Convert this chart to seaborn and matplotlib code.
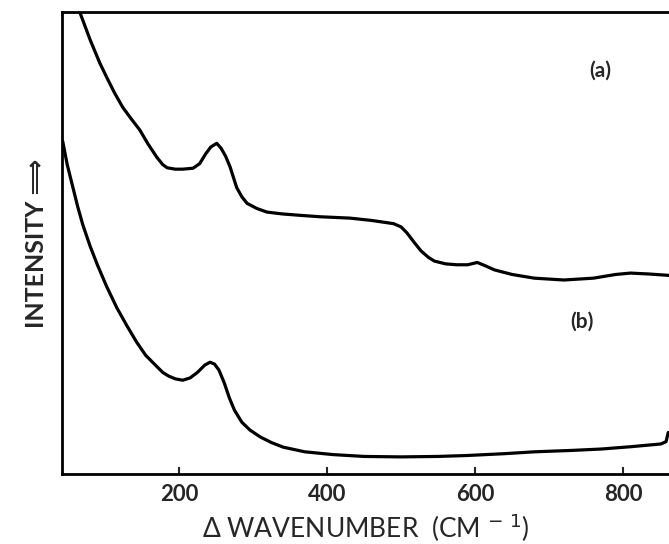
"""
Raman spectra (a) and (b) - redraw of scanned figure
"""

import numpy as np
import pandas as pd
import seaborn as sns
import matplotlib.pyplot as plt

# values (intensity in arbitrary units, 0 = bottom axis, 100 = top)
wavenumber_a = [60, 66, 80, 93, 102, 113, 124, 135, 147, 158, 170, 178, 184, 195, 205, 219,
                228, 236, 243, 251, 257, 263, 269, 278, 285, 292, 305, 319, 340, 364, 390,
                431, 460, 490, 500, 508, 517, 527, 537, 545, 560, 575, 590, 603, 615, 626,
                650, 680, 720, 760, 790, 810, 835, 862]
intensity_a = [104, 100, 94, 89, 86, 82.5, 79.4, 77, 74.5, 71.5, 68.6, 67, 66.3, 66, 66, 66.2,
               67.2, 69.3, 70.8, 71.6, 70.5, 68.8, 66.5, 62, 60, 58.6, 57.5, 56.7, 56.3, 56, 55.7,
               55.4, 54.9, 54.2, 53.5, 52.2, 50.3, 48.3, 46.9, 46.1, 45.5, 45.3, 45.3, 45.8, 45, 44.2,
               43.2, 42.4, 42, 42.4, 43.2, 43.5, 43.3, 43]

wavenumber_b = [43, 49, 56, 63, 70, 80, 90, 102, 116, 130, 143, 155, 168, 178, 186, 195,
                205, 215, 225, 235, 242, 248, 254, 261, 268, 275, 285, 296, 310, 325, 341,
                370, 408, 450, 500, 550, 589, 640, 680, 730, 770, 810, 851, 858, 861]
intensity_b = [72, 67, 62.5, 58, 54, 49.3, 45.2, 40.7, 36, 32, 28.5, 25.7, 23.6, 22, 21.2, 20.6,
               20.3, 20.8, 22, 23.6, 24.2, 23.8, 22.5, 19.8, 16.5, 13.8, 11.2, 9.5, 8, 6.8, 5.8,
               4.8, 4.2, 3.8, 3.7, 3.8, 4.0, 4.4, 4.8, 5.1, 5.4, 5.9, 6.5, 7, 9]

xticks = [200, 400, 600, 800]
spectrum_labels = ["(a)", "(b)"]

df = pd.concat([
	pd.DataFrame({"wavenumber": wavenumber_a, "intensity": intensity_a, "spectrum": "a"}),
	pd.DataFrame({"wavenumber": wavenumber_b, "intensity": intensity_b, "spectrum": "b"}),
])

sns.set_style("ticks")
plt.rcParams['font.family'] = ['Lato', 'DejaVu Sans']

fig = plt.figure(figsize=(6.69, 5.44), dpi=100)
ax = fig.add_axes([0.0927, 0.1287, 0.9073, 0.849])

sns.lineplot(data=df, x="wavenumber", y="intensity", units="spectrum", estimator=None,
			 sort=False, color="black", linewidth=2.3, ax=ax)

ax.set_xlim(42, 862)
ax.set_ylim(0, 100)
ax.set_xticks(xticks)
ax.set_yticks([])
ax.tick_params(axis="x", direction="in", length=5, width=1.5, labelsize=16, pad=7)
for lab in ax.get_xticklabels():
	lab.set_fontweight("bold")

for side in ["left", "bottom", "top"]:
	ax.spines[side].set_linewidth(2.0)
	ax.spines[side].set_color("black")
ax.spines["right"].set_visible(False)

ax.set_xlabel("Δ WAVENUMBER  (CM$^{\\,-\\,1}$)", fontsize=19, labelpad=5)
ax.set_ylabel("INTENSITY ⟹", fontsize=18, fontweight="bold", labelpad=10,
			  family=['Lato', 'DejaVu Sans'])

ax.text(769, 87.4, spectrum_labels[0], fontsize=15, fontweight="bold", ha="center", va="center")
ax.text(745, 33, spectrum_labels[1], fontsize=15, fontweight="bold", ha="center", va="center")

plt.savefig("out.png", dpi=100)
